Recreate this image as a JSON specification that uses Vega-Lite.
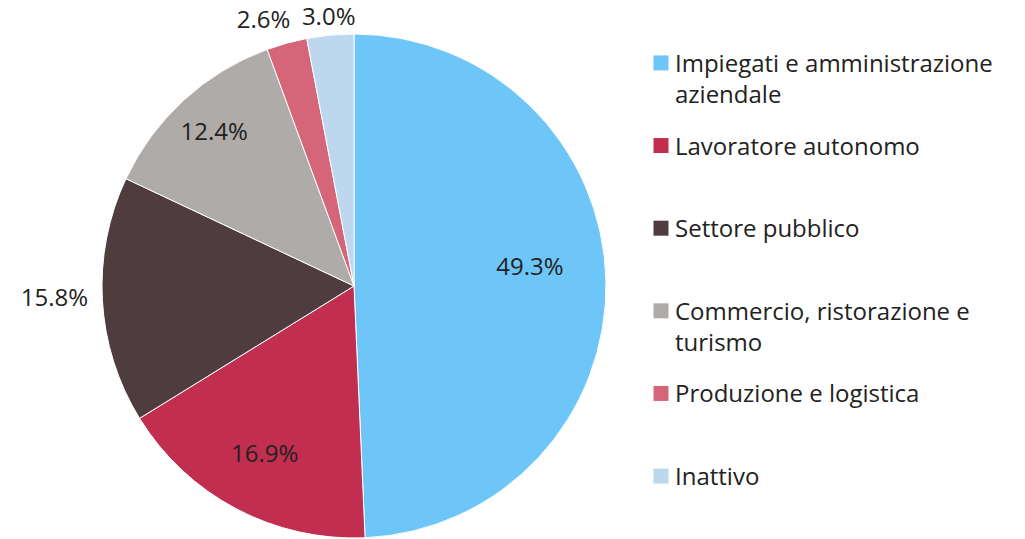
{
  "$schema": "https://vega.github.io/schema/vega-lite/v6.json",
  "autosize": {"type": "pad"},
  "padding": {"left": 20, "top": 6, "right": 0, "bottom": 0},
  "background": "white",
  "config": {"view": {"stroke": null}, "font": "Open Sans"},
  "spacing": 45,
  "data": {
    "values": [
      {"category": "Impiegati e amministrazione aziendale", "legendLabel": "Impiegati e amministrazione\naziendale", "value": 49.3},
      {"category": "Lavoratore autonomo", "legendLabel": "Lavoratore autonomo", "value": 16.9},
      {"category": "Settore pubblico", "legendLabel": "Settore pubblico", "value": 15.8},
      {"category": "Commercio, ristorazione e turismo", "legendLabel": "Commercio, ristorazione e\nturismo", "value": 12.4},
      {"category": "Produzione e logistica", "legendLabel": "Produzione e logistica", "value": 2.6},
      {"category": "Inattivo", "legendLabel": "Inattivo", "value": 3.0}
    ]
  },
  "transform": [
    {"window": [{"op": "row_number", "as": "idx"}]}
  ],
  "hconcat": [
    {
      "width": 504,
      "height": 504,
      "transform": [
        {"stack": "value", "groupby": [], "sort": [{"field": "idx"}], "as": ["v0", "v1"]},
        {"calculate": "(datum.v0 + datum.v1) / 2", "as": "mid"},
        {"calculate": "format(datum.value, '.1f') + '%'", "as": "pct"}
      ],
      "encoding": {},
      "layer": [
        {
          "mark": {"type": "arc", "outerRadius": 252, "stroke": "white", "strokeWidth": 1},
          "encoding": {
            "theta": {"field": "v0", "type": "quantitative", "scale": {"domain": [0, 100], "nice": false, "zero": true}},
            "theta2": {"field": "v1"},
            "color": {
              "field": "category", "type": "nominal", "legend": null,
              "scale": {
                "domain": ["Impiegati e amministrazione aziendale", "Lavoratore autonomo", "Settore pubblico", "Commercio, ristorazione e turismo", "Produzione e logistica", "Inattivo"],
                "range": ["#6EC6F8", "#C12E4F", "#4F3C3F", "#AEABA9", "#D5667A", "#BDD7EE"]
              }
            }
          }
        },
        {
          "transform": [{"filter": "datum.idx == 1"}],
          "mark": {"type": "text", "radius": 176, "dy": -14, "fontSize": 24, "color": "#222222"},
          "encoding": {"theta": {"field": "mid", "type": "quantitative"}, "text": {"field": "pct"}}
        },
        {
          "transform": [{"filter": "datum.idx == 2"}],
          "mark": {"type": "text", "radius": 191, "fontSize": 24, "color": "#222222"},
          "encoding": {"theta": {"field": "mid", "type": "quantitative"}, "text": {"field": "pct"}}
        },
        {
          "transform": [{"filter": "datum.idx == 3"}],
          "mark": {"type": "text", "radius": 300, "dy": -4, "fontSize": 24, "color": "#222222"},
          "encoding": {"theta": {"field": "mid", "type": "quantitative"}, "text": {"field": "pct"}}
        },
        {
          "transform": [{"filter": "datum.idx == 4"}],
          "mark": {"type": "text", "radius": 207, "fontSize": 24, "color": "#222222"},
          "encoding": {"theta": {"field": "mid", "type": "quantitative"}, "text": {"field": "pct"}}
        },
        {
          "transform": [{"filter": "datum.idx == 5"}],
          "mark": {"type": "text", "radius": 283, "dx": -15, "dy": 8, "fontSize": 24, "color": "#222222"},
          "encoding": {"theta": {"field": "mid", "type": "quantitative"}, "text": {"field": "pct"}}
        },
        {
          "transform": [{"filter": "datum.idx == 6"}],
          "mark": {"type": "text", "radius": 269, "fontSize": 24, "color": "#222222"},
          "encoding": {"theta": {"field": "mid", "type": "quantitative"}, "text": {"field": "pct"}}
        }
      ]
    },
    {
      "width": 340,
      "height": 471,
      "encoding": {
        "y": {
          "field": "category", "type": "nominal", "axis": null,
          "sort": {"field": "idx"},
          "scale": {"type": "point", "padding": 0.35}
        },
        "x": {"datum": 0, "type": "quantitative", "axis": null, "scale": {"domain": [0, 1]}}
      },
      "layer": [
        {
          "mark": {"type": "square", "size": 225, "opacity": 1, "filled": true},
          "encoding": {
            "color": {
              "field": "category", "type": "nominal", "legend": null,
              "scale": {
                "domain": ["Impiegati e amministrazione aziendale", "Lavoratore autonomo", "Settore pubblico", "Commercio, ristorazione e turismo", "Produzione e logistica", "Inattivo"],
                "range": ["#6EC6F8", "#C12E4F", "#4F3C3F", "#AEABA9", "#D5667A", "#BDD7EE"]
              }
            }
          }
        },
        {
          "mark": {"type": "text", "align": "left", "baseline": "top", "dx": 14, "dy": -10, "fontSize": 24, "lineHeight": 31, "lineBreak": "\n", "color": "#222222"},
          "encoding": {"text": {"field": "legendLabel"}}
        }
      ]
    }
  ]
}
